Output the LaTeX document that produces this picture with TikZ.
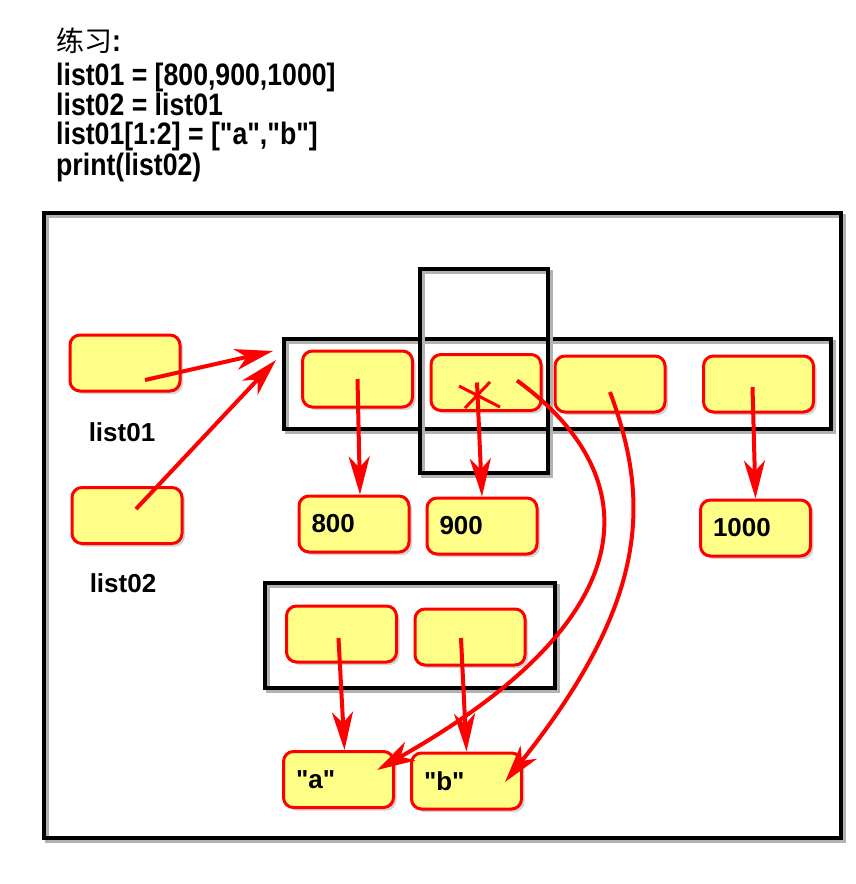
\documentclass[tikz,border=0pt]{standalone}
\usepackage{fontspec}
\setmainfont{Liberation Sans}[Ligatures=TeXOff]
\newfontfamily\cjkfont{Noto Sans CJK SC}
\newfontfamily\titlefont{Liberation Sans}[FakeStretch=0.86, Ligatures=TeXOff]
\usetikzlibrary{arrows.meta,shadows}
\definecolor{cellyellow}{RGB}{255,255,136}
\begin{document}
\begin{tikzpicture}[x=1pt, y=-1pt]
				\tikzstyle{every node}=[inner sep=1pt]
				\tikzstyle{frame}=[draw=black, line width=4pt, preaction={draw=black!30, line width=4pt, transform canvas={shift={(3pt,-3pt)}}}]
				\tikzstyle{cell}=[draw=red, line width=3pt, fill=cellyellow, rounded corners=10pt, minimum width=110pt, minimum height=56pt, drop shadow={shadow xshift=3pt, shadow yshift=-3pt, opacity=0.35}]
				\tikzstyle{valcell}=[cell, text width=85pt, align=left, font=\bfseries\fontsize{26}{26}\selectfont]
				\tikzstyle{lbl}=[font=\bfseries\fontsize{26}{26}\selectfont]
				\tikzstyle{code}=[anchor=base west, font=\titlefont\bfseries\fontsize{31}{31}\selectfont]
				\tikzstyle{ptr}=[draw=red, line width=4pt, -{Stealth[length=38pt, width=21pt, inset=11pt]}]
				\useasboundingbox (0,0) rectangle (856,884);
				% code lines
				\node[code] (t1) at (55,51) {{\cjkfont\mdseries\fontsize{28}{28}\selectfont 练习}:};
				\node[code] (t2) at (55,85) {list01 = [800,900,1000]};
				\node[code] (t3) at (55,115) {list02 = list01};
				\node[code] (t4) at (55,144) {list01[1:2] = ["a","b"]};
				\node[code] (t5) at (55,175) {print(list02)};
				% frames
				\draw[frame] (44,213) rectangle (841,838);
				\node[frame, minimum width=547pt, minimum height=90pt] (arr01) at (557.5,384) {};
				\node[frame, minimum width=128pt, minimum height=204pt] (slice) at (484,371) {};
				\node[frame, minimum width=290pt, minimum height=105pt] (arr02) at (410,635.5) {};
				% variables
				\node[cell] (l01) at (125,363) {};
				\node[cell] (l02) at (127,515.5) {};
				\node[lbl] (n01) at (122,432) {list01};
				\node[lbl] (n02) at (123,583) {list02};
				% list cells
				\node[cell] (e1) at (357.5,379) {};
				\node[cell] (e2) at (486,382.5) {};
				\node[cell] (e3) at (610,384) {};
				\node[cell] (e4) at (758.5,384) {};
				\node[cell] (c1) at (341.5,634) {};
				\node[cell] (c2) at (470,637) {};
				% values
				\node[valcell] (v800) at (354,524) {800};
				\node[valcell] (v900) at (482,526) {900};
				\node[valcell] (v1000) at (755.5,528) {1000};
				\node[valcell] (va) at (338.5,779.5) {"a"};
				\node[valcell] (vb) at (466.5,781) {"b"};
				% references
				\draw[ptr] ([shift={(20,17)}]l01.center) -- ([shift={(-9,14)}]arr01.north west);
				\draw[ptr] ([shift={(9,-6.5)}]l02.center) -- ([shift={(-6,23)}]arr01.north west);
				\draw[ptr] (e1.center) -- ([xshift=6pt]v800.north);
				\draw[ptr] ([shift={(-9,0)}]e2.center) -- (v900.north);
				\draw[ptr] ([shift={(-6,3)}]e4.center) -- (v1000.north);
				\draw[ptr] ([shift={(-3,4)}]c1.center) -- ([xshift=6pt]va.north);
				\draw[ptr] ([shift={(-9,1)}]c2.center) -- (vb.north);
				\draw[ptr] ([shift={(31,-2)}]e2.center) .. controls (640,470) and (660,610) .. ([shift={(38.5,-9.5)}]va.center);
				\draw[ptr] ([shift={(0,8)}]e3.center) .. controls (650,500) and (650,600) .. ([shift={(38.5,1)}]vb.center);
				% old reference crossed out
				\draw[red, line width=3pt] ([shift={(-27,3.5)}]e2.center) -- ([shift={(14,24.5)}]e2.center);
				\draw[red, line width=3pt] ([shift={(4,-0.5)}]e2.center) -- ([shift={(-21,25.5)}]e2.center);
		\end{tikzpicture}
\end{document}
